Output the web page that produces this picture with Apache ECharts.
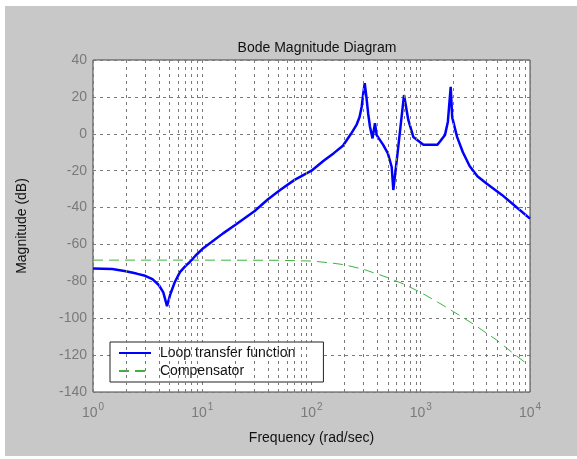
<!DOCTYPE html>
<html lang="en">
<head>
<meta charset="UTF-8" />
<title>Bode Magnitude Diagram</title>
<script src="https://cdn.jsdelivr.net/npm/echarts@6/dist/echarts.min.js"></script>
<style>
  html, body { margin: 0; background: #fff; }
  .echarts { position: absolute; left: 5px; top: 6px; width: 572px; height: 450px; background: #c8c8c8; }
</style>
</head>
<body>
<div class="echarts"></div>
<script>
// loop transfer function, frequency (rad/sec) and magnitude (dB)
const loopFreq = [1, 1.5, 2, 2.5, 3, 3.5, 4, 4.4, 4.76, 5.1, 5.6, 6.25, 7, 7.7, 8.7, 10, 12, 15.5, 20, 30, 40, 51.6, 70, 100,
  130, 160, 194, 230, 259, 275, 288, 298, 307, 318, 330, 343, 362, 381, 395, 453, 500, 542, 561, 623, 670, 703, 769, 855,
  1057, 1420, 1500, 1667, 1770, 1880, 1940, 2150, 2430, 2800, 3300, 4000, 5500, 7580, 10000]
const loopMag = [-73, -73.3, -74.5, -75.8, -77, -78.8, -82, -86, -93.4, -87, -80.5, -75, -71.8, -69.5, -66, -62.5, -59, -54, -49.5, -42, -35.5, -30.5, -25, -20,
  -14.5, -10.5, -6.5, 0, 5, 9, 14.7, 22, 27.5, 20, 11, 3.8, -2.5, 5.8, -0.7, -6, -10.6, -18, -30.5, -7, 10, 21, 7.5, -1.7,
  -6, -6, -4.2, -0.6, 6.4, 25.5, 9, -1.7, -10, -17.5, -23, -27, -33, -40, -46]

// compensator
const compFreq = [1, 10, 50, 100, 150, 200, 300, 500, 700, 1000, 1500, 2000, 3000, 5000, 7000, 10000]
const compMag = [-68.5, -68.5, -68.6, -69, -70, -71, -73.5, -78, -81.5, -86, -92, -96.5, -103, -112, -119, -126]

// dashed vertical grid at 2..9 of each decade
const minorGrid = [2, 3, 4, 5, 6, 7, 8, 9, 20, 30, 40, 50, 60, 70, 80, 90,
  200, 300, 400, 500, 600, 700, 800, 900, 2000, 3000, 4000, 5000, 6000, 7000, 8000, 9000]

const yMin = -140
const yMax = 40
const yStep = 20

const myCharts = echarts.init(document.querySelector('.echarts'))

const gridLine = { color: '#7a7a7a', type: [3, 4], width: 1 }

const option = {
  animation: false,
  textStyle: { fontFamily: 'Liberation Sans, Arial, sans-serif' },
  title: {
    text: 'Bode Magnitude Diagram',
    left: 307,
    top: 30,
    textAlign: 'center',
    textStyle: { fontSize: 14, fontWeight: 'normal', color: '#111' }
  },
  grid: {
    show: true,
    left: 88,
    right: 47,
    top: 54,
    bottom: 64,
    backgroundColor: '#fff',
    borderColor: '#444',
    borderWidth: 1
  },
  legend: {
    data: ['Loop transfer function', 'Compensator'],
    orient: 'vertical',
    left: 105,
    top: 336,
    padding: [4, 28, 4, 8],
    itemGap: 4,
    itemWidth: 32,
    itemHeight: 14,
    backgroundColor: '#fff',
    borderColor: '#222',
    borderWidth: 1,
    borderRadius: 0,
    itemStyle: { opacity: 0 },
    textStyle: { fontSize: 14, color: '#111', padding: [0, 0, 0, 4] }
  },
  xAxis: {
    type: 'log',
    logBase: 10,
    min: 1,
    max: 10000,
    name: 'Frequency (rad/sec)',
    nameLocation: 'middle',
    nameGap: 39,
    nameTextStyle: { fontSize: 14, color: '#111' },
    axisLine: { show: false },
    axisTick: { show: false },
    splitLine: { show: true, lineStyle: gridLine },
    axisLabel: {
      margin: 10,
      formatter: v => '{b|10}{s|' + Math.round(Math.log10(v)) + '}',
      rich: {
        b: { fontSize: 14, color: '#7a7a7a', verticalAlign: 'bottom' },
        s: { fontSize: 10, color: '#7a7a7a', verticalAlign: 'bottom', padding: [0, 0, 8, 1] }
      }
    }
  },
  yAxis: {
    type: 'value',
    min: yMin,
    max: yMax,
    interval: yStep,
    name: 'Magnitude (dB)',
    nameLocation: 'middle',
    nameGap: 64,
    nameTextStyle: { fontSize: 14, color: '#111' },
    axisLine: { show: false },
    axisTick: { show: false },
    splitLine: { show: true, lineStyle: gridLine },
    axisLabel: { fontSize: 14, color: '#7a7a7a', margin: 6 }
  },
  series: [
    {
      name: 'grid',
      type: 'line',
      data: [],
      silent: true,
      markLine: {
        silent: true,
        symbol: 'none',
        label: { show: false },
        lineStyle: gridLine,
        data: minorGrid.map(v => ({ xAxis: v }))
      }
    },
    {
      name: 'Compensator',
      type: 'line',
      symbol: 'none',
      color: '#3cb43c',
      lineStyle: { color: '#3cb43c', width: 1, type: [10, 6] },
      data: compFreq.map((w, i) => [w, compMag[i]])
    },
    {
      name: 'Loop transfer function',
      type: 'line',
      symbol: 'none',
      color: '#0000ff',
      lineStyle: { color: '#0000ff', width: 2.5 },
      data: loopFreq.map((w, i) => [w, loopMag[i]])
    }
  ]
}
myCharts.setOption(option)
</script>
</body>
</html>
